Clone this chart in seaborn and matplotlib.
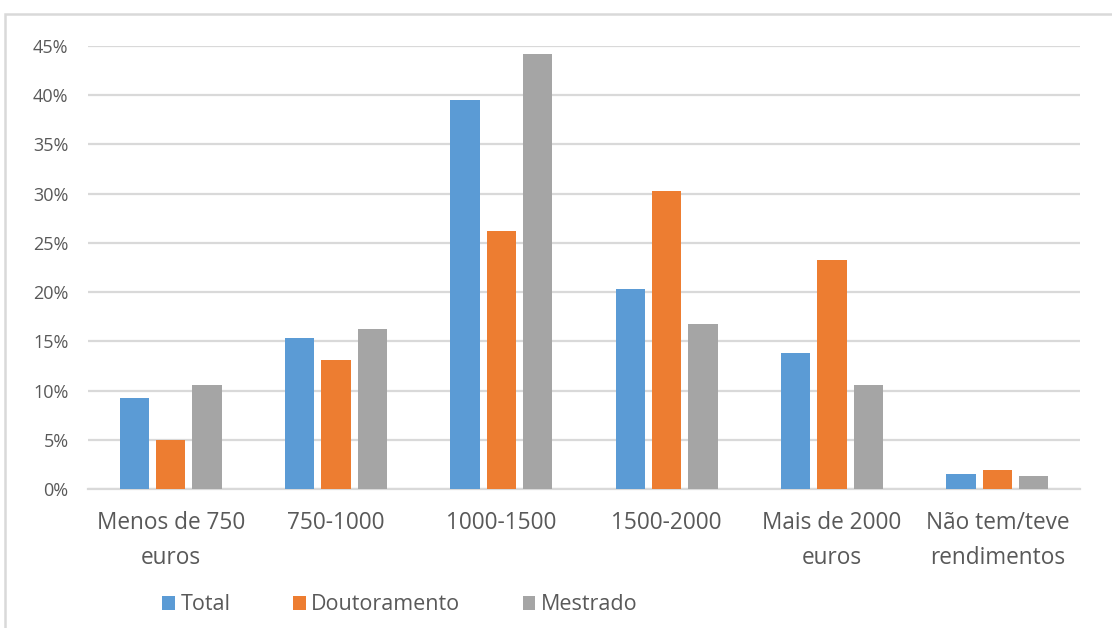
import matplotlib
matplotlib.use("Agg")
import matplotlib.pyplot as plt
import matplotlib.patches as mpatches
from matplotlib.ticker import FuncFormatter, MultipleLocator
import seaborn as sns
import pandas as pd

categories = ["Menos de 750\neuros", "750-1000", "1000-1500", "1500-2000",
              "Mais de 2000\neuros", "Não tem/teve\nrendimentos"]
series_names = ["Total", "Doutoramento", "Mestrado"]
total = [9.2, 15.3, 39.5, 20.3, 13.8, 1.5]
doutoramento = [5.0, 13.1, 26.2, 30.3, 23.3, 1.9]
mestrado = [10.6, 16.3, 44.2, 16.8, 10.6, 1.3]
colors = ["#5B9BD5", "#ED7D31", "#A5A5A5"]

rows = []
for name, vals in zip(series_names, [total, doutoramento, mestrado]):
    for c, v in zip(categories, vals):
        rows.append({"cat": c, "serie": name, "val": v})
df = pd.DataFrame(rows)

sns.set_theme(style="white")
plt.rcParams["font.family"] = ["Open Sans", "DejaVu Sans"]
text_color = "#595959"
grid_color = "#D9D9D9"

fig = plt.figure(figsize=(11.12, 6.28), dpi=100)
ax = fig.add_axes([88/1112, 1-489/628, (1080-88)/1112, (489-46)/628])

sns.barplot(data=df, x="cat", y="val", hue="serie", order=categories,
            hue_order=series_names, palette=colors, saturation=1,
            width=0.66, gap=0.2, linewidth=0, ax=ax, zorder=3)

ax.set_ylim(0, 45)
ax.yaxis.set_major_locator(MultipleLocator(5))
ax.yaxis.set_major_formatter(FuncFormatter(lambda v, p: f"{int(round(v))}%"))
ax.grid(axis="y", color=grid_color, linewidth=1.6, zorder=0)
ax.set_axisbelow(True)
for s in ["top", "right", "left"]:
    ax.spines[s].set_visible(False)
ax.spines["bottom"].set_color(grid_color)
ax.spines["bottom"].set_linewidth(1.6)
ax.set_xlabel("")
ax.set_ylabel("")
ax.tick_params(axis="x", length=0, pad=16, labelsize=16.3, labelcolor=text_color)
ax.tick_params(axis="y", length=0, pad=14, labelsize=13, labelcolor=text_color)
for lbl in ax.get_xticklabels():
    lbl.set_linespacing(1.6)
    lbl.set_horizontalalignment("center")

handles, labels = ax.get_legend_handles_labels()
if ax.get_legend() is not None:
    ax.get_legend().remove()
fig.legend(handles, labels, loc="center left", bbox_to_anchor=(162/1112, 1-605/628),
           ncol=3, frameon=False, fontsize=15.5, labelcolor=text_color,
           handlelength=0.6, handleheight=0.6, handletextpad=0.25,
           columnspacing=2.9, borderpad=0, borderaxespad=0)

frame = mpatches.Rectangle((5/1112, -0.1), 1.2, 1-14/628 + 0.1, transform=fig.transFigure,
                           fill=False, edgecolor=grid_color, linewidth=1.8)
fig.patches.append(frame)

fig.savefig("out.png", dpi=100)
